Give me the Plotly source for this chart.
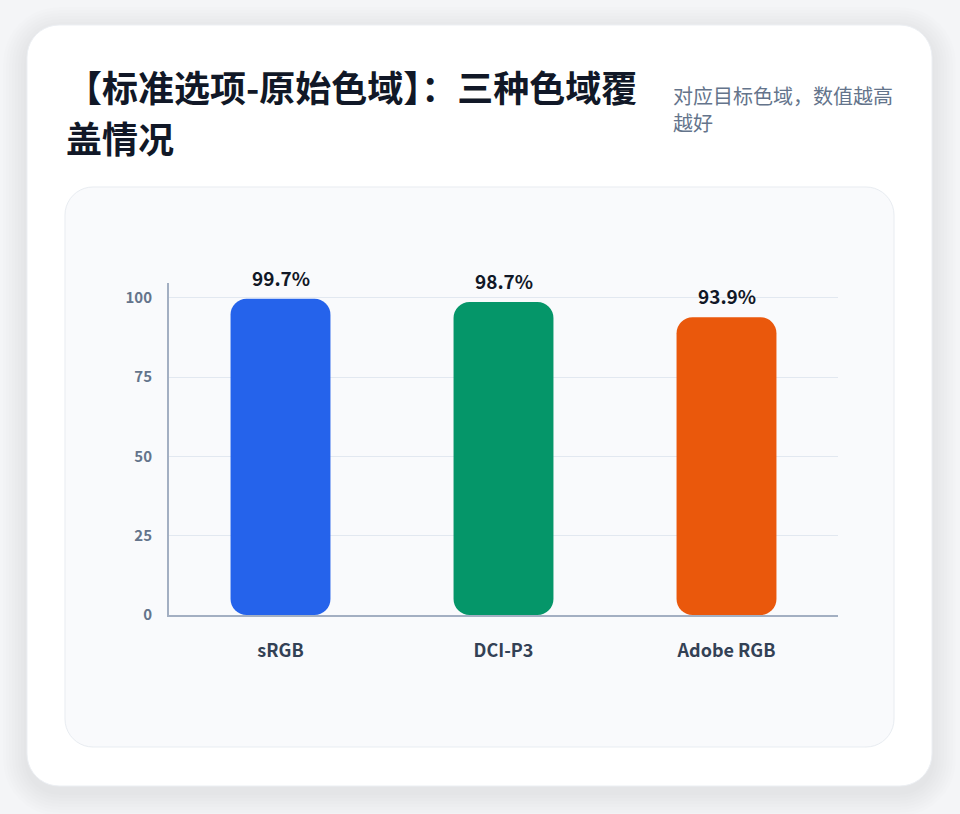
import plotly.graph_objects as go
import math

categories = ["sRGB", "DCI-P3", "Adobe RGB"]
coverage = [99.7, 98.7, 93.9]
bar_colors = ["#2563eb", "#059669", "#ea580c"]
tick_vals = [0, 25, 50, 75, 100]
title_lines = ["【标准选项-原始色域】：三种色域覆", "盖情况"]
subtitle_lines = ["对应目标色域，数值越高", "越好"]

W, H = 960, 814
L, R, T, B = 169, 838, 283, 615  # plot area in pixels
PW, PH = R - L, B - T
YMAX = 104.7
LATIN = "Noto Sans CJK SC, Noto Sans"


def px2paper(px, py):
    return (px - L) / PW, (B - py) / PH


def rounded_path(x0, y0, x1, y1, r, n=10):
    pts = []
    corners = [
        (x1 - r, y0 + r, -90, 0),
        (x1 - r, y1 - r, 0, 90),
        (x0 + r, y1 - r, 90, 180),
        (x0 + r, y0 + r, 180, 270),
    ]
    for cx, cy, a0, a1 in corners:
        for i in range(n + 1):
            a = math.radians(a0 + (a1 - a0) * i / n)
            pts.append(px2paper(cx + r * math.cos(a), cy + r * math.sin(a)))
    d = "M " + " L ".join(f"{x:.5f},{y:.5f}" for x, y in pts) + " Z"
    return d


shapes = []
# soft card shadow
for i in range(8):
    g = 24 - i * 3
    shapes.append(dict(type="path", xref="paper", yref="paper", layer="below",
                       path=rounded_path(27 - g, 25 - g + 6, 932 + g, 786 + g + 6, 32 + g),
                       fillcolor="rgba(15,23,42,0.008)", line=dict(width=0)))
# card
shapes.append(dict(type="path", xref="paper", yref="paper", layer="below",
                   path=rounded_path(27, 25, 932, 786, 32),
                   fillcolor="#ffffff", line=dict(color="#eceff3", width=1)))
# inner panel
shapes.append(dict(type="path", xref="paper", yref="paper", layer="below",
                   path=rounded_path(65, 187, 894, 747, 28),
                   fillcolor="#f9fafc", line=dict(color="#e8ecf1", width=1)))

fig = go.Figure()
fig.add_trace(go.Bar(
    x=categories, y=coverage, base=[0] * len(coverage),
    marker=dict(color=bar_colors, cornerradius=16, line=dict(width=0)),
    hoverinfo="skip",
))

annotations = []
for c, v in zip(categories, coverage):
    annotations.append(dict(x=c, y=v, xref="x", yref="y", text=f"<b>{v:.1f}%</b>",
                            showarrow=False, yanchor="bottom", yshift=6,
                            font=dict(size=19, color="#111827", family=LATIN)))

for line, ypx in zip(title_lines, [86, 137]):
    tx, ty = px2paper(64, ypx)
    annotations.append(dict(x=tx, y=ty, xref="paper", yref="paper", xanchor="left",
                            yanchor="middle", align="left", showarrow=False,
                            text=f"<b>{line}</b>",
                            font=dict(size=36, color="#111827", family="Noto Sans CJK SC")))
for line, ypx in zip(subtitle_lines, [95, 122]):
    sx, sy = px2paper(671, ypx)
    annotations.append(dict(x=sx, y=sy, xref="paper", yref="paper", xanchor="left",
                            yanchor="middle", align="left", showarrow=False, text=line,
                            font=dict(size=20, color="#64748b", family="Noto Sans CJK SC")))

fig.update_layout(
    width=W, height=H, autosize=False,
    margin=dict(l=L, r=W - R, t=T, b=H - B, pad=0),
    paper_bgcolor="#f4f5f7",
    plot_bgcolor="rgba(0,0,0,0)",
    bargap=0.552,
    showlegend=False,
    shapes=shapes,
    annotations=annotations,
    xaxis=dict(
        showline=True, linecolor="#a3afc2", linewidth=2,
        showgrid=False, ticks="", ticklabelstandoff=18,
        tickfont=dict(size=18, color="#334155", family=LATIN, weight="bold"),
        fixedrange=True,
    ),
    yaxis=dict(
        range=[0, YMAX], tickvals=tick_vals,
        showline=True, linecolor="#a3afc2", linewidth=2,
        showgrid=True, gridcolor="#e2e8f0", gridwidth=1,
        zeroline=False, ticks="", ticklabelstandoff=12,
        tickfont=dict(size=15, color="#64748b", family=LATIN, weight="bold"),
        fixedrange=True,
    ),
)

fig.write_html("out.html", config={"displayModeBar": False},
               post_script="document.body.style.margin='0';document.body.style.overflow='hidden';")
